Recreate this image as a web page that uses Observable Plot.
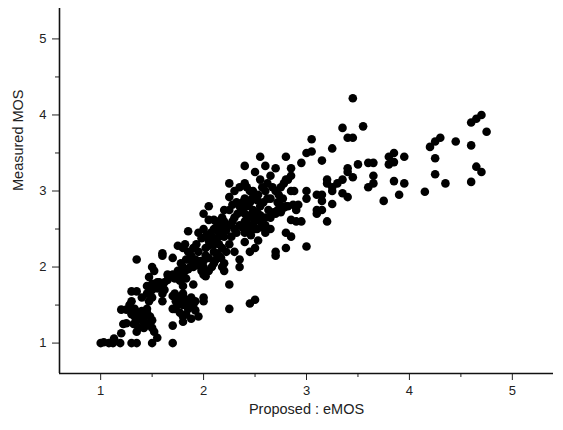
<!DOCTYPE html>
<html>
<head>
<meta charset="utf-8">
<script src="https://cdn.jsdelivr.net/npm/d3@7"></script>
<script src="https://cdn.jsdelivr.net/npm/@observablehq/plot@0.6"></script>
<style>
  html, body { margin: 0; padding: 0; background: #fff; }
  #chart { width: 563px; height: 430px; }
</style>
</head>
<body>
<div id="chart"></div>
<script>
// Proposed eMOS (x) and Measured MOS (y)
const eMOS = [
  1.0,1.03,1.08,1.12,1.19,1.3,1.35,1.5,1.7,1.13,1.2,1.22,1.25,1.2,1.25,1.3,1.35,1.3,1.35,
  1.33,1.35,1.35,1.37,1.35,1.4,1.42,1.45,1.45,1.47,1.5,1.5,1.52,1.5,1.5,1.5,1.52,1.5,1.47,1.55,1.55,
  1.6,1.6,1.6,1.62,1.6,1.6,1.65,1.7,1.7,1.7,1.7,1.7,1.72,1.75,1.75,1.75,1.75,1.8,1.8,1.8,1.8,1.8,1.8,
  1.82,1.85,1.85,1.85,1.9,1.9,1.92,1.95,1.9,1.95,1.95,2.0,2.0,2.0,2.0,2.0,2.0,2.02,2.05,2.05,2.05,
  2.1,2.1,2.1,2.1,2.15,2.15,2.2,2.2,2.2,2.2,2.2,2.25,2.25,2.25,2.25,2.25,2.25,2.25,2.3,2.3,2.3,2.3,
  2.35,2.35,2.35,2.35,2.4,2.4,2.4,2.4,2.4,2.4,2.4,2.45,2.45,2.45,2.5,2.5,2.5,2.5,2.5,2.5,2.55,2.55,
  2.55,2.55,2.6,2.6,2.6,2.6,2.65,2.65,2.7,2.7,2.7,2.7,2.7,2.75,2.75,2.8,2.8,2.8,2.8,2.8,2.85,2.85,
  2.85,2.85,2.85,2.9,2.9,2.95,2.95,3.0,3.0,3.0,3.0,3.05,3.05,3.1,3.1,3.1,3.15,3.15,3.15,3.15,3.2,3.2,
  3.2,3.25,3.25,3.25,3.25,3.3,3.35,3.35,3.35,3.4,3.4,3.4,3.4,3.45,3.45,3.45,3.5,3.55,3.6,3.6,3.65,
  3.65,3.65,3.75,3.8,3.8,3.85,3.85,3.85,3.9,3.95,3.95,4.15,4.2,4.25,4.25,4.25,4.3,4.35,4.45,4.6,4.6,
  4.6,4.65,4.65,4.7,4.7,4.75,
  1.72,1.75,1.78,1.8,1.82,1.85,1.77,1.83,1.87,1.9,1.92,1.88,1.85,1.8,1.95,1.97,1.78,1.83,1.9,1.93,
  1.68,1.65,1.62,
  2.02,2.05,2.08,2.12,2.15,2.18,2.12,2.17,2.22,2.07,2.03,1.98,2.13,2.17,2.22,2.27,2.18,2.1,2.28,2.32,
  2.35,2.38,2.33,2.37,2.28,2.32,2.2,2.15,
  2.42,2.45,2.48,2.52,2.55,2.45,2.47,2.52,2.42,2.38,2.48,2.52,2.57,2.43,2.5,2.46,2.53,2.58,2.62,2.63,
  2.48,2.53,2.57,2.62,2.45,2.42,
  2.65,2.68,2.72,2.75,2.78,2.82,2.87,2.9,2.92,2.72,2.77,2.67,2.73,2.78,2.82,2.88,2.6,2.65,
  1.4,1.42,1.38,1.43,1.45,1.48,1.4,1.45,1.48,1.53,1.57,1.55,1.45,1.4,1.3,1.28,1.32,1.33,1.3,
  1.78,1.82,1.78,1.85,1.83,1.88,1.77,1.73,1.72,1.88,1.92,
  2.05,2.08,2.12,2.15,2.18,2.05,2.0,1.98,2.02
];
const MOS = [
  1.0,1.01,1.0,1.0,1.0,1.0,1.0,1.0,1.0,1.06,1.13,1.25,1.26,1.44,1.44,1.68,1.68,1.55,2.1,
  1.45,1.37,1.3,1.2,1.15,1.35,1.2,1.45,1.4,1.55,1.3,1.2,1.15,1.6,1.7,1.78,1.95,2.0,1.87,1.07,1.8,
  1.75,1.55,1.65,1.8,2.15,2.18,1.9,1.9,2.12,1.62,1.45,1.23,1.45,1.6,1.5,1.95,2.28,2.0,1.75,1.65,1.5,1.35,1.28,
  2.3,1.55,2.47,2.1,1.77,1.5,1.43,1.35,2.0,2.2,2.45,2.5,2.7,1.6,1.55,1.9,2.0,2.15,2.62,2.8,2.35,
  2.5,2.3,2.2,2.05,2.6,2.45,2.75,2.6,2.4,2.05,1.95,3.1,2.92,2.75,2.55,2.3,1.77,1.45,2.5,2.65,3.0,2.2,
  2.1,2.0,2.8,3.05,3.33,3.1,2.9,2.7,2.6,2.45,2.33,2.55,2.2,1.52,1.57,2.25,2.5,2.7,2.95,3.25,3.45,3.15,
  2.8,2.6,2.45,2.65,3.0,3.33,2.9,3.2,2.2,2.15,2.7,3.0,3.3,3.05,2.8,2.25,2.45,2.8,3.15,3.45,2.4,2.62,
  3.0,3.2,3.3,2.6,2.8,2.6,3.37,3.5,3.0,2.9,2.27,3.52,3.68,2.95,2.75,2.7,2.95,2.87,2.75,3.4,2.6,3.1,
  3.15,3.0,3.05,2.83,3.56,3.1,3.83,3.15,2.97,3.7,3.25,3.3,2.92,3.7,3.18,4.22,3.35,3.85,3.37,3.05,3.37,
  3.2,3.1,2.87,3.35,3.45,3.5,3.38,3.13,2.95,3.45,3.1,2.99,3.58,3.65,3.43,3.22,3.7,3.1,3.65,3.9,3.6,
  3.12,3.95,3.32,4.0,3.25,3.78,
  1.85,1.88,1.9,1.92,1.95,1.97,1.82,1.85,2.0,2.05,2.1,2.15,2.2,2.25,2.02,2.08,2.05,2.1,2.25,2.3,
  1.88,1.83,1.7,
  2.25,2.28,2.4,2.35,2.3,2.25,2.52,2.55,2.48,2.45,2.42,2.38,2.18,2.12,2.2,2.4,2.65,2.62,2.6,2.45,
  2.55,2.52,2.7,2.75,2.82,2.85,2.5,2.4,
  2.62,2.68,2.75,2.72,2.68,2.85,2.9,2.88,2.8,2.85,2.55,2.5,2.52,2.5,2.62,2.42,2.35,2.85,2.9,2.75,
  3.0,2.95,3.05,3.1,3.0,3.05,
  2.65,2.72,2.75,2.72,2.78,2.8,2.82,2.75,2.82,2.85,2.9,3.05,2.95,3.1,3.15,3.0,2.55,2.5,
  1.3,1.28,1.4,1.35,1.25,1.35,1.6,1.65,1.7,1.75,1.8,1.72,1.75,1.42,1.45,1.5,1.25,1.35,1.38,
  1.62,1.58,1.55,1.45,1.38,1.32,1.4,1.55,1.65,1.6,1.55,
  1.95,2.0,2.1,2.15,2.0,2.12,2.08,1.95,1.88
];
const xTicks = [1, 2, 3, 4, 5];
const yTicks = [1, 2, 3, 4, 5];
const xMinor = [1.5, 2.5, 3.5, 4.5];
const yMinor = [1.5, 2.5, 3.5, 4.5];
const xTitle = "Proposed : eMOS";
const yTitle = "Measured MOS";

const data = eMOS.map((x, i) => ({x, y: MOS[i]}));

const chart = Plot.plot({
  width: 563,
  height: 430,
  marginLeft: 59,
  marginRight: 10,
  marginTop: 8,
  marginBottom: 57,
  style: {fontFamily: "'Liberation Sans', Arial, sans-serif", fontSize: "13px", color: "#222", background: "#fff"},
  x: {domain: [0.6, 5.4]},
  y: {domain: [0.6, 5.4]},
  marks: [
    Plot.axisX({ticks: xTicks, tickSize: 7, tickPadding: 5, tickFormat: d => d, fontSize: 13, label: null}),
    Plot.axisX({ticks: xMinor, tickSize: 4, text: null, label: null}),
    Plot.axisY({ticks: yTicks, tickSize: 7, tickPadding: 6, tickFormat: d => d, fontSize: 13, label: null}),
    Plot.axisY({ticks: yMinor, tickSize: 4, text: null, label: null}),
    Plot.ruleX([0.6], {stroke: "#111", strokeWidth: 1.6}),
    Plot.ruleY([0.6], {stroke: "#111", strokeWidth: 1.6}),
    Plot.text([xTitle], {frameAnchor: "bottom", dy: 40, fontSize: 14.5, fill: "#222", text: d => d}),
    Plot.text([yTitle], {frameAnchor: "left", dx: -41, rotate: -90, fontSize: 14.5, fill: "#222", text: d => d}),
    Plot.dot(data, {x: "x", y: "y", r: 4.3, fill: "#000", stroke: "none"})
  ]
});
document.getElementById("chart").appendChild(chart);
</script>
</body>
</html>
